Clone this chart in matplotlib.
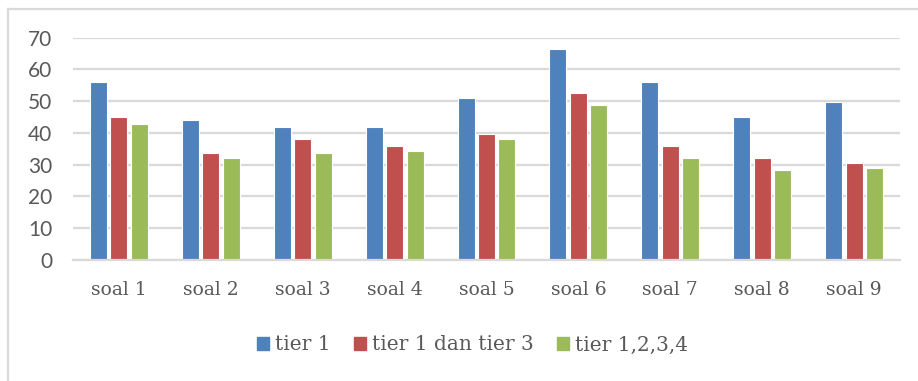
import matplotlib
matplotlib.use("Agg")
import matplotlib.pyplot as plt
import numpy as np
from matplotlib.patches import Rectangle
from matplotlib.lines import Line2D

categories = ["soal 1", "soal 2", "soal 3", "soal 4", "soal 5",
              "soal 6", "soal 7", "soal 8", "soal 9"]
tier_1 = [56, 44, 42, 42, 51, 66.3, 56, 45, 49.7]
tier_1_dan_3 = [45, 33.6, 38, 36, 39.6, 52.5, 36, 32, 30.7]
tier_1234 = [42.8, 32, 33.6, 34.3, 38, 48.8, 32, 28.3, 29.1]
series_names = ["tier 1", "tier 1 dan tier 3", "tier 1,2,3,4"]
y_ticks = [0, 10, 20, 30, 40, 50, 60, 70]

colors = ["#4F81BD", "#C0504D", "#9BBB59"]
text_gray = "#595959"
grid_gray = "#D9D9D9"
serif = ["DejaVu Serif"]

fig = plt.figure(figsize=(9.18, 3.81), dpi=100)
ax = fig.add_axes([73 / 918, 1 - 260 / 381, (900 - 73) / 918, (260 - 37.7) / 381])

x = np.arange(len(categories))
step = 0.223
width = 0.185
for i, vals in enumerate([tier_1, tier_1_dan_3, tier_1234]):
    ax.bar(x + (i - 1) * step, vals, width=width, color=colors[i],
           edgecolor="white", linewidth=0.8, label=series_names[i], zorder=3)

ax.set_xlim(-0.5, len(categories) - 0.5)
ax.set_ylim(0, 70)
ax.set_yticks(y_ticks)
ax.set_yticklabels([str(t) for t in y_ticks], fontsize=15, color=text_gray,
                   family=["Lato"])
ax.set_xticks(x)
ax.set_xticklabels(categories, fontsize=13.5, color=text_gray, family=serif)
ax.tick_params(axis="both", length=0)
ax.tick_params(axis="y", pad=15)
ax.tick_params(axis="x", pad=15)
ax.grid(axis="y", color=grid_gray, linewidth=1.6, zorder=0)
for s in ["top", "right", "left"]:
    ax.spines[s].set_visible(False)
ax.spines["bottom"].set_color(grid_gray)
ax.spines["bottom"].set_linewidth(1.6)
ax.spines["bottom"].set_zorder(4)

handles = [Rectangle((0, 0), 1, 1, color=c) for c in colors]
leg = fig.legend(handles, series_names, loc="center", bbox_to_anchor=(0.515, 1 - 345 / 381),
                 ncol=3, frameon=False, handlelength=0.6, handleheight=0.6,
                 handletextpad=0.3, columnspacing=1.15,
                 prop={"family": serif, "size": 14.5})
for t in leg.get_texts():
    t.set_color(text_gray)

# outer chart frame (top and left edges)
fig.add_artist(Line2D([7.5 / 918, 1], [1 - 8.5 / 381, 1 - 8.5 / 381],
                      color=grid_gray, linewidth=1.6, transform=fig.transFigure))
fig.add_artist(Line2D([7.5 / 918, 7.5 / 918], [0, 1 - 8.5 / 381],
                      color=grid_gray, linewidth=1.6, transform=fig.transFigure))

fig.savefig("out.png", dpi=100)
